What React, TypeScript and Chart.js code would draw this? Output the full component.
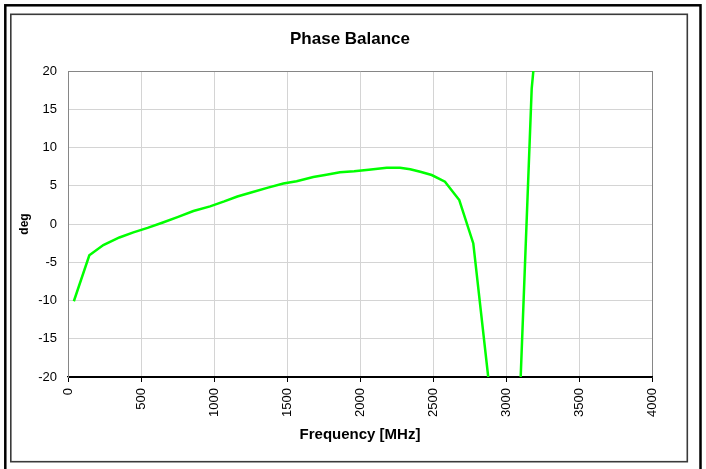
import { useEffect, useRef } from "react";
import { Chart, registerables } from "chart.js";

Chart.register(...registerables);

// Frequency points (MHz) and phase balance (deg)
const freqMHz = [
  40, 146, 242, 352, 448, 545, 650, 750, 859, 973, 1070, 1160, 1260, 1370,
  1475, 1566, 1680, 1770, 1863, 1960, 2060, 2183, 2274, 2344, 2413, 2491,
  2582, 2680, 2776, 2880, 2980, 3076, 3176, 3276,
];
const phaseDeg = [
  -10.1, -4.1, -2.76, -1.76, -1.1, -0.5, 0.2, 0.9, 1.7, 2.3, 2.95, 3.6, 4.15,
  4.75, 5.3, 5.6, 6.15, 6.45, 6.75, 6.9, 7.1, 7.36, 7.35, 7.15, 6.83, 6.4,
  5.53, 3.13, -2.54, -20.3, -60, -32.3, 17.7, 38,
];

const xMin = 0;
const xMax = 4000;
const xStep = 500;
const yMin = -20;
const yMax = 20;
const yStep = 5;

const chartTitle = "Phase Balance";
const xTitle = "Frequency [MHz]";
const yTitle = "deg";

const FONT = "'Liberation Sans', Arial, sans-serif";
const GRID = "#d4d4d4";
const FRAME_GRAY = "#868686";

const framePlugin = {
  id: "frames",
  afterDraw(chart: any) {
    const ctx = chart.ctx;
    ctx.save();
    ctx.strokeStyle = "#000";
    ctx.lineWidth = 2.5;
    ctx.strokeRect(5.3, 5.3, 695.2, 480);
    ctx.strokeStyle = "#3a3a3a";
    ctx.lineWidth = 1.6;
    ctx.strokeRect(10.8, 14.3, 676.5, 447.4);
    ctx.restore();
  },
};

export default function App() {
  const canvasRef = useRef<HTMLCanvasElement | null>(null);

  useEffect(() => {
    if (!canvasRef.current) return;
    Chart.defaults.font.family = FONT;
    Chart.defaults.color = "#000";

    const points = freqMHz.map((f, i) => ({ x: f, y: phaseDeg[i] }));

    const chart = new Chart(canvasRef.current, {
      type: "line",
      data: {
        datasets: [
          {
            label: "Phase Balance",
            data: points,
            borderColor: "#00ff00",
            backgroundColor: "#00ff00",
            borderWidth: 2.5,
            pointRadius: 0,
            tension: 0,
            fill: false,
          },
        ],
      },
      options: {
        responsive: false,
        animation: false,
        events: [],
        layout: { padding: { left: 0, right: 6, top: 0, bottom: 0 } },
        plugins: {
          legend: { display: false },
          tooltip: { enabled: false },
          title: {
            display: true,
            text: chartTitle,
            color: "#000",
            font: { family: FONT, size: 17, weight: "bold", lineHeight: 1.2 },
            padding: { top: 28.8, bottom: 21.8 },
          },
        },
        scales: {
          x: {
            type: "linear",
            min: xMin,
            max: xMax,
            afterFit: (s: any) => {
              s.height = 92;
            },
            ticks: {
              stepSize: xStep,
              autoSkip: false,
              maxRotation: 90,
              minRotation: 90,
              padding: 6,
              color: "#000",
              font: { family: FONT, size: 13 },
              callback: (v: any) => String(v),
            },
            grid: {
              color: (c: any) =>
                c.tick && (c.tick.value === xMax || c.tick.value === xMin)
                  ? FRAME_GRAY
                  : GRID,
              tickColor: "#000",
              tickLength: 5,
              lineWidth: 1,
            },
            border: { color: "#000", width: 1.2 },
            title: {
              display: true,
              text: xTitle,
              color: "#000",
              font: { family: FONT, size: 15, weight: "bold", lineHeight: 1.2 },
              padding: { top: 0, bottom: 25 },
            },
          },
          y: {
            type: "linear",
            min: yMin,
            max: yMax,
            afterFit: (s: any) => {
              s.width = 68;
            },
            ticks: {
              stepSize: yStep,
              padding: 11,
              color: "#000",
              font: { family: FONT, size: 13 },
              callback: (v: any) => String(v),
            },
            grid: {
              color: (c: any) =>
                c.tick && c.tick.value === yMax
                  ? FRAME_GRAY
                  : c.tick && c.tick.value === yMin
                  ? "#000"
                  : GRID,
              drawTicks: false,
              lineWidth: 1,
            },
            border: { color: FRAME_GRAY, width: 1 },
            title: {
              display: true,
              text: yTitle,
              color: "#000",
              font: { family: FONT, size: 12, weight: "bold", lineHeight: 1.2 },
              padding: { top: 17, bottom: 0 },
            },
          },
          yR: {
            type: "linear",
            position: "right",
            display: true,
            afterFit: (s: any) => {
              s.width = 48;
            },
            ticks: { display: false },
            grid: { display: false },
            border: { display: false },
          },
        },
      },
      plugins: [framePlugin],
    });

    return () => chart.destroy();
  }, []);

  return (
    <div
      style={{
        position: "fixed",
        left: 0,
        top: 0,
        width: 706,
        height: 469,
        background: "#fff",
      }}
    >
      <canvas ref={canvasRef} width={706} height={469} />
    </div>
  );
}
